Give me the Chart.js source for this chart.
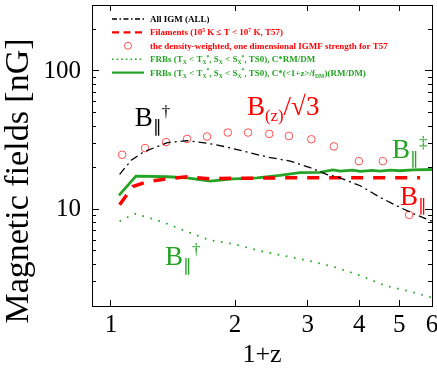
<!doctype html>
<html lang="en">
<head>
  <meta charset="UTF-8" />
  <title>Magnetic fields vs 1+z</title>
  <script src="https://cdn.jsdelivr.net/npm/chart.js"></script>
  <style>
    html, body { margin: 0; padding: 0; background: #fff; }
    #wrap { width: 437px; height: 377px; }
  </style>
</head>
<body>
  <div id="wrap"><canvas id="myChart"></canvas></div>

  <script>
    // values: 1+z and field strength in nG
    const zAllIgm = [1.05, 1.12, 1.20, 1.37, 1.53, 1.71, 1.91, 2.13, 2.39, 2.72, 3.04, 3.33, 3.59, 4.02, 4.49, 4.93, 5.41, 6.0];
    const bAllIgm = [17.9, 22.6, 26.0, 30.3, 31.4, 30.1, 28.2, 26.0, 23.9, 22.3, 20.0, 17.9, 16.9, 14.8, 12.2, 10.6, 9.3, 8.2];

    const zFil = [1.05, 1.13, 1.22, 1.37, 1.53, 1.74, 1.98, 2.30, 2.72, 3.21, 3.80, 4.49, 5.61];
    const bFil = [10.8, 14.6, 15.8, 16.6, 17.2, 16.6, 16.8, 16.8, 16.9, 16.9, 16.9, 16.9, 16.9];

    const zCirc = [1.065, 1.21, 1.36, 1.53, 1.71, 1.92, 2.15, 2.42, 2.70, 3.06, 3.47, 3.99, 4.56, 5.28];
    const bCirc = [24.8, 27.7, 30.6, 32.3, 33.6, 35.9, 35.9, 35.1, 33.9, 32.1, 28.5, 22.3, 22.3, 9.1];

    const zFrbDot = [1.05, 1.14, 1.32, 1.51, 1.73, 1.99, 2.30, 2.64, 3.07, 3.51, 4.04, 4.63, 5.31, 6.0];
    const bFrbDot = [8.2, 9.3, 8.2, 7.0, 6.0, 5.6, 5.0, 4.6, 4.2, 3.8, 3.3, 2.8, 2.55, 2.3];

    const zFrbSol = [1.046, 1.15, 1.37, 1.53, 1.74, 1.98, 2.26, 2.57, 2.87, 3.21, 3.45, 3.59, 3.85, 4.02, 4.3, 4.49, 4.75, 5.02, 5.4, 6.0];
    const bFrbSol = [12.6, 17.4, 17.2, 16.9, 16.0, 16.6, 16.9, 17.6, 18.4, 18.5, 19.3, 18.9, 19.2, 18.8, 19.1, 18.9, 19.2, 19.0, 19.3, 19.4];

    const xTicks = [1, 2, 3, 4, 5, 6];
    const yMajor = [10, 100];
    const yMinor = [3, 4, 5, 6, 7, 8, 9, 20, 30, 40, 50, 60, 70, 80, 90, 200];

    const RED = "#ff0000";
    const GREEN = "#25a325";
    const SERIF = '"Liberation Serif", "Times New Roman", serif';

    // legend rows: [text, mode] pieces, mode n / sub / sup
    const legendRows = [
      { color: "#000", parts: [["All IGM (ALL)", "n"]] },
      { color: RED, parts: [["Filaments (10", "n"], ["5", "sup"], [" K \u2264 T < 10", "n"], ["7", "sup"], [" K, T57)", "n"]] },
      { color: RED, parts: [["the density-weighted, one dimensional IGMF strength for T57", "n"]] },
      { color: GREEN, parts: [["FRBs (T", "n"], ["X", "sub"], [" < T", "n"], ["X", "sub"], ["*", "sup"], [", S", "n"], ["X", "sub"], [" < S", "n"], ["X", "sub"], ["*", "sup"], [", TS0), C*RM/DM", "n"]] },
      { color: GREEN, parts: [["FRBs (T", "n"], ["X", "sub"], [" < T", "n"], ["X", "sub"], ["*", "sup"], [", S", "n"], ["X", "sub"], [" < S", "n"], ["X", "sub"], ["*", "sup"], [", TS0), C*(<1+z>/f", "n"], ["DM", "sub"], [")(RM/DM)", "n"]] },
    ];
    const legendDash = [[5, 2.5, 1.5, 2.5], [7, 4.5], [], [1.6, 3], []];

    // curve labels, anchored in data coordinates (left edge, baseline)
    const notes = [
      { x: 1.143, y: 39.8, color: "#000", parts: [["B", "n"], ["\u2225", "sub"], ["\u2020", "sup"]] },
      { x: 2.137, y: 47.7, color: RED, parts: [["B", "n"], ["(z)", "sub"], ["/\u221a3", "n"]] },
      { x: 4.80, y: 23.5, color: GREEN, parts: [["B", "n"], ["\u2225", "sub"], ["\u2021", "sup"]] },
      { x: 5.02, y: 10.7, color: RED, parts: [["B", "n"], ["\u2225", "sub"]] },
      { x: 1.352, y: 3.98, color: GREEN, parts: [["B", "n"], ["\u2225", "sub"], ["\u2020", "sup"]] },
    ];

    const pts = (xs, ys) => xs.map((x, i) => ({ x: x, y: ys[i] }));

    function drawRich(ctx, parts, x, y, size, weight, color) {
      ctx.save();
      ctx.fillStyle = color;
      ctx.textAlign = "left";
      ctx.textBaseline = "alphabetic";
      for (const [t, m] of parts) {
        const s = m === "n" ? size : size * 0.62;
        const dy = m === "sub" ? size * 0.22 : m === "sup" ? -size * 0.36 : 0;
        ctx.font = `${weight} ${s}px ${SERIF}`;
        ctx.fillText(t, x, y + dy);
        x += ctx.measureText(t).width;
      }
      ctx.restore();
    }

    const overlay = {
      id: "overlay",
      afterDraw(chart) {
        const { ctx, chartArea, scales } = chart;

        legendRows.forEach((row, i) => {
          const cy = chartArea.top + 14 + i * 13.4;
          const x0 = chartArea.left + 20;
          const ds = chart.data.datasets[i];
          ctx.save();
          if (i === 2) {
            ctx.strokeStyle = ds.pointBorderColor;
            ctx.lineWidth = 1;
            ctx.beginPath();
            ctx.arc(x0 + 16, cy, 3.5, 0, Math.PI * 2);
            ctx.stroke();
          } else {
            ctx.strokeStyle = ds.borderColor;
            ctx.lineWidth = i === 1 || i === 4 ? 2.2 : 1.6;
            ctx.setLineDash(legendDash[i]);
            ctx.beginPath();
            ctx.moveTo(x0, cy);
            ctx.lineTo(x0 + 32, cy);
            ctx.stroke();
          }
          ctx.restore();
          drawRich(ctx, row.parts, chartArea.left + 58, cy + 3, 9, "bold", row.color);
        });

        notes.forEach((n) => {
          drawRich(ctx, n.parts, scales.x.getPixelForValue(n.x), scales.y.getPixelForValue(n.y), 27, "normal", n.color);
        });

        // y title sits a bit below the axis centre in the original
        ctx.save();
        ctx.translate(19, 181);
        ctx.rotate(-Math.PI / 2);
        ctx.fillStyle = "#000";
        ctx.font = `34px ${SERIF}`;
        ctx.textAlign = "center";
        ctx.textBaseline = "middle";
        ctx.fillText("Magnetic fields [nG]", 0, 0);
        ctx.restore();
      },
    };

    function tickAxis(pos, vals, min, max, len, opts) {
      const horiz = pos === "top" || pos === "bottom";
      return Object.assign({
        type: "logarithmic",
        position: pos,
        axis: horiz ? "x" : "y",
        min: min,
        max: max,
        bounds: "data",
        afterBuildTicks: (s) => { s.ticks = vals.map((v) => ({ value: v })); },
        ticks: { display: false, autoSkip: false, maxRotation: 0 },
        grid: { drawOnChartArea: false, tickLength: len, tickColor: "#000", tickWidth: 1 },
        border: { display: false },
        afterFit: (s) => {
          if (horiz) s.height = 0; else s.width = 0;
          s.paddingLeft = s.paddingRight = s.paddingTop = s.paddingBottom = 0;
        },
      }, opts || {});
    }

    const ctx = document.getElementById("myChart");

    new Chart(ctx, {
      type: "line",
      data: {
        datasets: [
          {
            label: "All IGM (ALL)",
            data: pts(zAllIgm, bAllIgm),
            borderColor: "#000",
            borderWidth: 1.3,
            borderDash: [8, 4, 2, 4],
            pointRadius: 0,
            fill: false,
          },
          {
            label: "Filaments",
            data: pts(zFil, bFil),
            borderColor: RED,
            borderWidth: 3.5,
            borderDash: [12, 10],
            pointRadius: 0,
            fill: false,
          },
          {
            label: "density-weighted IGMF T57",
            data: pts(zCirc, bCirc),
            showLine: false,
            pointStyle: "circle",
            pointRadius: 3.8,
            pointBorderWidth: 1,
            pointBorderColor: "#ff5050",
            pointBackgroundColor: "rgba(0,0,0,0)",
          },
          {
            label: "FRBs C*RM/DM",
            data: pts(zFrbDot, bFrbDot),
            borderColor: GREEN,
            borderWidth: 1.8,
            borderDash: [1.6, 6.7],
            pointRadius: 0,
            fill: false,
          },
          {
            label: "FRBs C*(<1+z>/fDM)(RM/DM)",
            data: pts(zFrbSol, bFrbSol),
            borderColor: GREEN,
            borderWidth: 2.8,
            pointRadius: 0,
            fill: false,
          },
        ],
      },
      options: {
        responsive: true,
        maintainAspectRatio: false,
        animation: false,
        devicePixelRatio: 1,
        layout: { padding: { left: 0, right: 5, top: 1, bottom: 0 } },
        plugins: { legend: { display: false }, tooltip: { enabled: false } },
        scales: {
          x: tickAxis("bottom", xTicks, 0.9, 6, -6, {
            ticks: {
              display: true, autoSkip: false, maxRotation: 0, padding: 10.5, color: "#000",
              font: { family: SERIF, size: 25 },
              callback: (v) => String(v),
            },
            border: { display: true, color: "#000", width: 1 },
            title: { display: true, text: "1+z", color: "#000", font: { family: SERIF, size: 26 }, padding: { top: 0, bottom: 6 } },
            afterFit: (s) => { s.height = 71; s.paddingLeft = 0; s.paddingRight = 0; },
          }),
          x2: tickAxis("top", xTicks, 0.9, 6, -6, { border: { display: true, color: "#000", width: 1 } }),
          y: tickAxis("left", yMajor, 2, 300, -7, {
            weight: 1,
            ticks: {
              display: true, autoSkip: false, padding: 18, color: "#000",
              font: { family: SERIF, size: 25 },
              callback: (v) => String(v),
            },
            border: { display: true, color: "#000", width: 1 },
            afterFit: (s) => { s.width = 92; s.paddingTop = 0; s.paddingBottom = 0; },
          }),
          yMinor: tickAxis("left", yMinor, 2, 300, -4, { weight: 0 }),
          y2: tickAxis("right", yMajor, 2, 300, -7, { border: { display: true, color: "#000", width: 1 } }),
          y2Minor: tickAxis("right", yMinor, 2, 300, -4),
        },
      },
      plugins: [overlay],
    });
  </script>
</body>
</html>
